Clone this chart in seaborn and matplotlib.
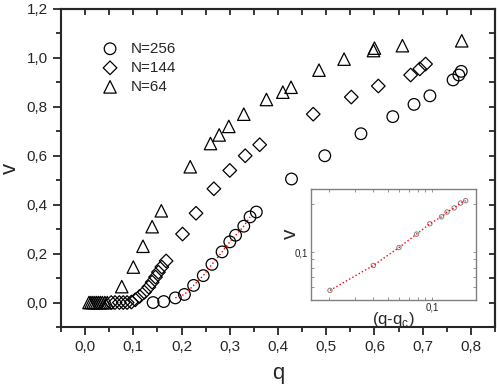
import numpy as np
import pandas as pd
import matplotlib
matplotlib.use("Agg")
import matplotlib.pyplot as plt
import seaborn as sns
from matplotlib.ticker import MultipleLocator, FuncFormatter, LogLocator, NullFormatter

sns.set_style("ticks")
plt.rcParams['font.family'] = ['Liberation Sans', 'DejaVu Sans']

# =========================
# data
# =========================
q_256 = [0.141, 0.163, 0.187, 0.206, 0.225, 0.245, 0.263, 0.284, 0.300, 0.312,
         0.329, 0.342, 0.355, 0.428, 0.497, 0.572, 0.638, 0.682, 0.715, 0.763,
         0.775, 0.780]
v_256 = [0.000, 0.004, 0.019, 0.033, 0.070, 0.110, 0.156, 0.207, 0.248, 0.275,
         0.312, 0.350, 0.370, 0.505, 0.600, 0.690, 0.760, 0.810, 0.845, 0.910,
         0.930, 0.945]

q_144 = [0.054, 0.062, 0.071, 0.079, 0.087, 0.096, 0.104, 0.113, 0.123, 0.132,
         0.139, 0.146, 0.152, 0.159, 0.168, 0.202, 0.230, 0.267, 0.300, 0.332,
         0.362, 0.473, 0.552, 0.608, 0.675, 0.694, 0.706]
v_144 = [0.000, 0.000, 0.000, 0.000, 0.000, 0.002, 0.011, 0.025, 0.042, 0.063,
         0.083, 0.104, 0.124, 0.145, 0.170, 0.280, 0.365, 0.465, 0.540, 0.600,
         0.645, 0.770, 0.840, 0.885, 0.930, 0.955, 0.975]

q_64 = [0.008, 0.012, 0.016, 0.020, 0.024, 0.028, 0.032, 0.036, 0.041, 0.046,
        0.076, 0.100, 0.120, 0.139, 0.158, 0.218, 0.260, 0.278, 0.298, 0.329,
        0.376, 0.410, 0.427, 0.485, 0.537, 0.598, 0.600, 0.658, 0.781]
v_64 = [0.000, 0.000, 0.000, 0.000, 0.000, 0.000, 0.000, 0.000, 0.000, 0.000,
        0.065, 0.145, 0.230, 0.310, 0.375, 0.555, 0.650, 0.685, 0.720, 0.770,
        0.830, 0.860, 0.880, 0.950, 0.995, 1.030, 1.040, 1.050, 1.070]

# inset: log-log of v vs (q - q_c)
dq_inset = [0.0202, 0.0399, 0.0597, 0.0787, 0.0969, 0.1164, 0.127, 0.142, 0.157, 0.170]
v_inset = [0.0575, 0.0825, 0.107, 0.130, 0.151, 0.167, 0.179, 0.190, 0.204, 0.211]

df256 = pd.DataFrame({"q": q_256, "v": v_256})
df144 = pd.DataFrame({"q": q_144, "v": v_144})
df64 = pd.DataFrame({"q": q_64, "v": v_64})
dfin = pd.DataFrame({"dq": dq_inset, "v": v_inset})

comma = FuncFormatter(lambda x, pos: f"{x:.1f}".replace(".", ","))

# =========================
# main plot
# =========================
fig = plt.figure(figsize=(4.98, 3.89), dpi=100)
ax = fig.add_axes([0.1225, 0.1594, 0.8715, 0.8175])

mk = dict(facecolor="none", edgecolor="black", linewidth=0.9, legend=False)
sns.scatterplot(data=df256, x="q", y="v", marker="o", s=70, ax=ax, **mk)
sns.scatterplot(data=df144, x="q", y="v", marker="D", s=48, ax=ax, **mk)
sns.scatterplot(data=df64, x="q", y="v", marker="^", s=80, ax=ax, **mk)
sns.lineplot(data=df256.iloc[2:12], x="q", y="v", color="red", linestyle=":",
             linewidth=1.0, ax=ax, sort=True)

# legend drawn as text + markers in axes coords
leg_items = [("o", "N=256", 70), ("D", "N=144", 48), ("^", "N=64", 80)]
for i, (m, lab, s) in enumerate(leg_items):
    yy = 0.875 - i * 0.06
    ax.scatter([0.113], [yy], marker=m, s=s, facecolor="none", edgecolor="black",
               linewidth=0.9, transform=ax.transAxes)
    ax.text(0.16, yy, lab, transform=ax.transAxes, fontsize=11, va="center")

ax.set_xlim(-0.05, 0.85)
ax.set_ylim(-0.1, 1.2)
ax.xaxis.set_major_locator(MultipleLocator(0.1))
ax.xaxis.set_minor_locator(MultipleLocator(0.05))
ax.yaxis.set_major_locator(MultipleLocator(0.2))
ax.yaxis.set_minor_locator(MultipleLocator(0.1))
ax.xaxis.set_major_formatter(comma)
ax.yaxis.set_major_formatter(comma)
ax.tick_params(which="major", direction="out", length=6, width=1.3, labelsize=11)
ax.tick_params(which="minor", direction="out", length=3.5, width=1.3)
ax.set_xlabel("q", fontsize=16, labelpad=6)
ax.set_ylabel("v", fontsize=16)
ax.yaxis.set_label_coords(-0.092, 0.5)

for spine in ax.spines.values():
    spine.set_visible(True)
    spine.set_linewidth(1.5)

top = ax.secondary_xaxis("top")
top.xaxis.set_major_locator(MultipleLocator(0.05))
top.tick_params(direction="in", length=4, width=1.3, labelsize=0, labeltop=False)
right = ax.secondary_yaxis("right")
right.yaxis.set_major_locator(MultipleLocator(0.1))
right.tick_params(direction="in", length=4, width=1.3, labelright=False)
top.spines["top"].set_linewidth(1.5)
right.spines["right"].set_linewidth(1.5)

# =========================
# inset
# =========================
axin = fig.add_axes([0.6245, 0.2288, 0.3313, 0.2853])
sns.lineplot(data=dfin, x="dq", y="v", color="red", linestyle=":", linewidth=1.0, ax=axin)
sns.scatterplot(data=dfin, x="dq", y="v", marker="o", s=10, facecolor="none",
                edgecolor="gray", linewidth=0.7, ax=axin, legend=False)
axin.set_xscale("log")
axin.set_yscale("log")
axin.set_xlim(0.015, 0.2)
axin.set_ylim(0.05, 0.25)
axin.xaxis.set_major_locator(LogLocator(base=10, numticks=5))
axin.yaxis.set_major_locator(LogLocator(base=10, numticks=5))
axin.xaxis.set_major_formatter(FuncFormatter(lambda x, pos: "0,1" if abs(x - 0.1) < 1e-9 else ""))
axin.yaxis.set_major_formatter(FuncFormatter(lambda x, pos: "0,1" if abs(x - 0.1) < 1e-9 else ""))
axin.xaxis.set_minor_formatter(NullFormatter())
axin.yaxis.set_minor_formatter(NullFormatter())
axin.tick_params(which="both", direction="in", top=True, right=True, labelsize=7,
                 length=2, width=0.6, color="gray", pad=2)
for spine in axin.spines.values():
    spine.set_visible(True)
    spine.set_color("gray")
    spine.set_linewidth(1.0)
axin.set_xlabel("(q-q$_\\mathregular{c}$)", fontsize=12, labelpad=-2)
axin.set_ylabel("v", fontsize=15)
axin.yaxis.set_label_coords(-0.07, 0.6)

fig.savefig("out.png", dpi=100)
